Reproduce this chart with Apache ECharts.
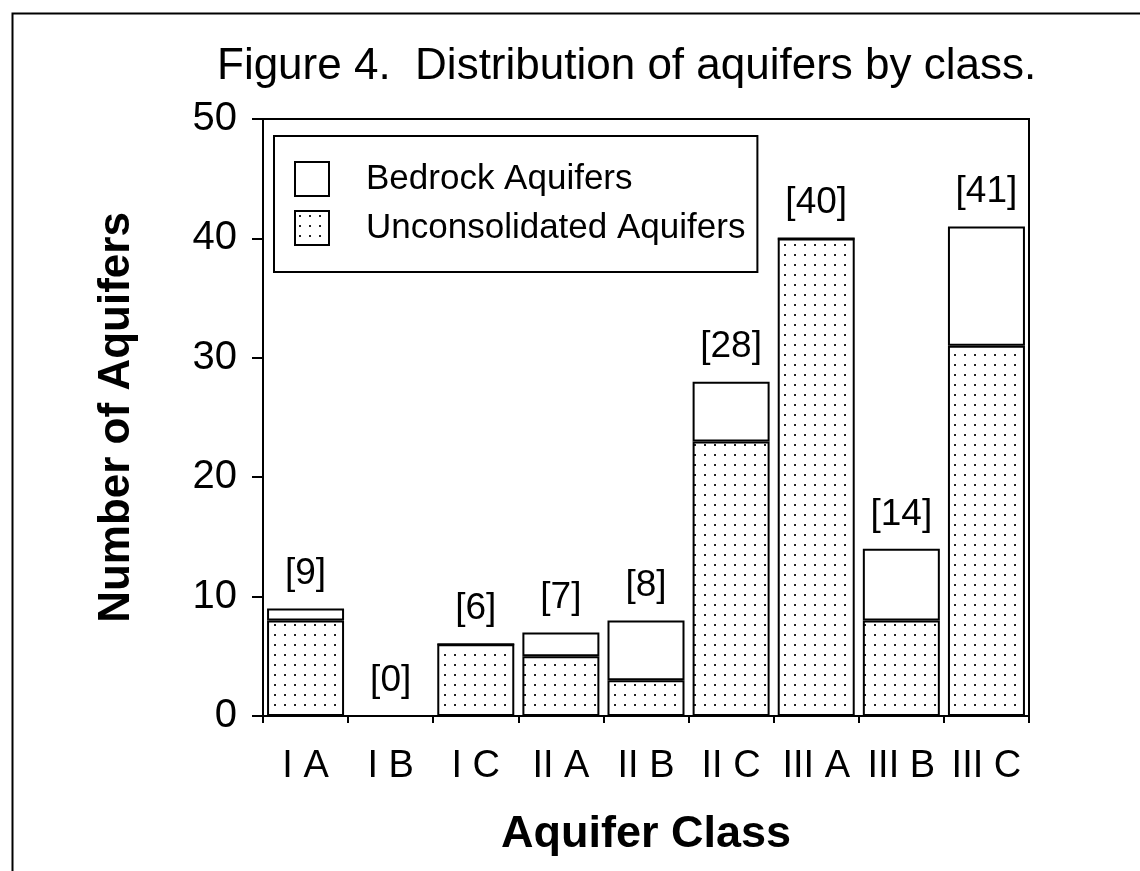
<!DOCTYPE html>
<html>
<head>
<meta charset="utf-8">
<title>Distribution of aquifers by class</title>
<script src="https://cdn.jsdelivr.net/npm/echarts@6/dist/echarts.min.js"></script>
<style>
  html, body { margin: 0; padding: 0; background: #fff; }
  #main { width: 1140px; height: 871px; }
</style>
</head>
<body>
<div id="main"></div>
<script>
// data
const categories = ['I A', 'I B', 'I C', 'II A', 'II B', 'II C', 'III A', 'III B', 'III C'];
const unconsolidated = [8, 0, 6, 5, 3, 23, 40, 8, 31];
const bedrock = [1, 0, 0, 2, 5, 5, 0, 6, 10];
const totals = [9, 0, 6, 7, 8, 28, 40, 14, 41];
const yTicks = [0, 10, 20, 30, 40, 50];

const FONT = "'Liberation Sans', Arial, Helvetica, sans-serif";

// stipple fill for the unconsolidated bars
function makeDots() {
  const c = document.createElement('canvas');
  c.width = 10;
  c.height = 10;
  const ctx = c.getContext('2d');
  ctx.fillStyle = '#fff';
  ctx.fillRect(0, 0, 10, 10);
  ctx.fillStyle = '#222';
  ctx.fillRect(4, 4, 2, 2);
  return c;
}
const dots = { image: makeDots(), repeat: 'repeat' };

const chartDom = document.getElementById('main');
const myChart = echarts.init(chartDom, null, { renderer: 'canvas' });

var option = {
  backgroundColor: '#fff',
  animation: false,
  title: {
    text: 'Figure 4.  Distribution of aquifers by class.',
    left: 212,
    top: 40,
    textStyle: {
      fontFamily: FONT,
      fontSize: 44,
      fontWeight: 'normal',
      color: '#000'
    }
  },
  graphic: [
    {
      // outer frame, only top and left visible
      type: 'rect',
      left: 10,
      top: 11,
      shape: { width: 1300, height: 1000 },
      style: { fill: 'none', stroke: '#000', lineWidth: 2 },
      silent: true
    }
  ],
  legend: {
    orient: 'vertical',
    left: 274,
    top: 136,
    padding: [25, 12, 26, 20],
    borderColor: '#000',
    borderWidth: 2,
    itemWidth: 34,
    itemHeight: 34,
    itemGap: 13,
    selectedMode: false,
    textStyle: {
      fontFamily: FONT,
      fontSize: 35,
      color: '#000',
      padding: [6, 0, 0, 32]
    },
    data: [
      { name: 'Bedrock Aquifers', icon: 'rect', itemStyle: { color: '#fff', borderColor: '#000', borderWidth: 2 } },
      { name: 'Unconsolidated Aquifers', icon: 'rect', itemStyle: { color: dots, borderColor: '#000', borderWidth: 2 } }
    ]
  },
  grid: {
    left: 263,
    right: 111,
    top: 119,
    bottom: 155,
    show: true,
    borderColor: '#000',
    borderWidth: 2,
    containLabel: false
  },
  xAxis: {
    type: 'category',
    data: categories,
    name: 'Aquifer Class',
    nameLocation: 'middle',
    nameGap: 96,
    nameTextStyle: {
      fontFamily: FONT,
      fontSize: 45,
      fontWeight: 'bold',
      color: '#000'
    },
    axisLine: { lineStyle: { color: '#000', width: 2 } },
    axisTick: { show: true, length: 7, lineStyle: { color: '#000', width: 2 } },
    axisLabel: {
      interval: 0,
      fontFamily: FONT,
      fontSize: 38,
      color: '#000',
      margin: 32
    }
  },
  yAxis: {
    type: 'value',
    min: 0,
    max: 50,
    interval: 10,
    name: 'Number of Aquifers',
    nameLocation: 'middle',
    nameGap: 124,
    nameRotate: 90,
    nameTextStyle: {
      fontFamily: FONT,
      fontSize: 44,
      fontWeight: 'bold',
      color: '#000'
    },
    splitLine: { show: false },
    axisLine: { show: true, lineStyle: { color: '#000', width: 2 } },
    axisTick: { show: true, length: 11, lineStyle: { color: '#000', width: 2 } },
    axisLabel: {
      fontFamily: FONT,
      fontSize: 40,
      color: '#000',
      margin: 26,
      customValues: yTicks
    }
  },
  series: [
    {
      name: 'Unconsolidated Aquifers',
      type: 'bar',
      stack: 'all',
      barWidth: 77,
      itemStyle: { color: dots, borderColor: '#000', borderWidth: 2 },
      data: unconsolidated
    },
    {
      name: 'Bedrock Aquifers',
      type: 'bar',
      stack: 'all',
      barWidth: 77,
      itemStyle: { color: '#fff', borderColor: '#000', borderWidth: 2 },
      label: {
        show: true,
        position: 'top',
        distance: 16,
        fontFamily: FONT,
        fontSize: 37,
        color: '#000',
        formatter: function (p) { return '[' + totals[p.dataIndex] + ']'; }
      },
      data: bedrock
    }
  ]
};
option && myChart.setOption(option);
</script>
</body>
</html>
